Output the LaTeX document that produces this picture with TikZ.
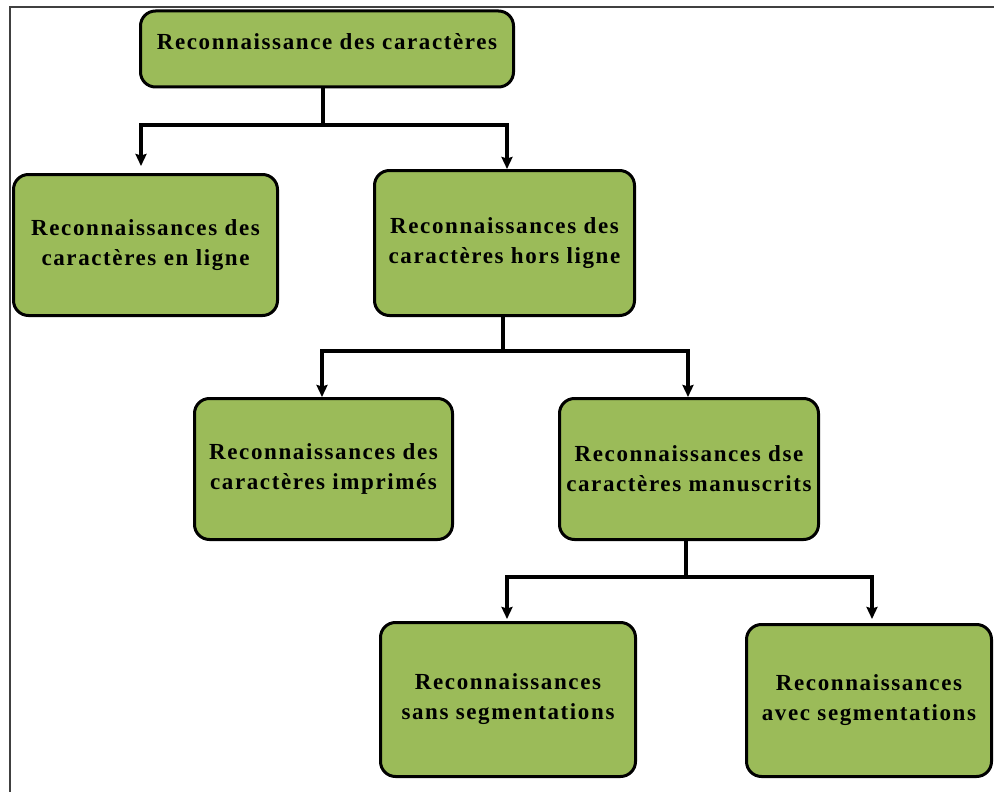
\documentclass[tikz,border=0pt]{standalone}
\usepackage{fontspec}
\setmainfont{Liberation Serif}
\newfontfamily\boxfont[LetterSpace=7]{Liberation Serif}
\usetikzlibrary{arrows.meta}
\definecolor{boxgreen}{HTML}{9BBB59}
\tikzset{
  box/.style={draw=black, line width=3pt, fill=boxgreen, rounded corners=15pt,
    align=center, inner sep=0pt,
    font=\boxfont\bfseries\fontsize{23}{30}\selectfont},
  link/.style={draw=black, line width=3.2pt},
  arr/.style={link, -{Stealth[length=12pt,width=11pt,inset=1.5pt]}},
  frame/.style={draw=black!75, line width=1.4pt}
}
\begin{document}
\begin{tikzpicture}[x=1pt,y=-1pt]
\useasboundingbox (0,0) rectangle (994,792);
\fill[white] (0,0) rectangle (994,792);
% outer frame (top and left edges)
\draw[frame] (10,792) -- (10,7) -- (994,7);

% boxes
\node[box, minimum width=373pt, minimum height=76pt, text height=15pt, text depth=13pt]
  (top) at (327,49) {Reconnaissance des caractères};
\node[box, minimum width=264pt, minimum height=141pt] (l1) at (145.5,245)
  {Reconnaissances des\\caractères en ligne};
\node[box, minimum width=260pt, minimum height=145pt] (r1) at (504.5,243)
  {Reconnaissances des\\caractères hors ligne};
\node[box, minimum width=258pt, minimum height=141pt] (l2) at (323.5,469)
  {Reconnaissances des\\caractères imprimés};
\node[box, minimum width=259pt, minimum height=141pt] (r2) at (689,469)
  {Reconnaissances dse\\caractères manuscrits};
\node[box, minimum width=255pt, minimum height=154pt] (l3) at (508,699.5)
  {Reconnaissances\\sans segmentations};
\node[box, minimum width=245pt, minimum height=152pt] (r3) at (869,700.5)
  {Reconnaissances\\avec segmentations};

% junction points of the tree connectors
\coordinate (j1) at ([xshift=-4pt]top.south |- 0,125);
\coordinate (j2) at ([xshift=-1.5pt]r1.south |- 0,351);
\coordinate (j3) at ([xshift=-3pt]r2.south |- 0,577);

% level 1
\draw[link] ([xshift=-4pt]top.south) -- (j1);
\draw[arr] (j1) -| ([xshift=-4.5pt,yshift=7pt]l1.north);
\draw[arr] (j1) -| ([xshift=2.5pt]r1.north);
% level 2
\draw[link] ([xshift=-1.5pt]r1.south) -- (j2);
\draw[arr] (j2) -| ([xshift=-1.5pt]l2.north);
\draw[arr] (j2) -| ([xshift=-1pt]r2.north);
% level 3
\draw[link] ([xshift=-3pt]r2.south) -- (j3);
\draw[arr] (j3) -| ([xshift=-1pt,yshift=2pt]l3.north);
\draw[arr] (j3) -| ([xshift=3pt,yshift=4pt]r3.north);
\end{tikzpicture}
\end{document}
